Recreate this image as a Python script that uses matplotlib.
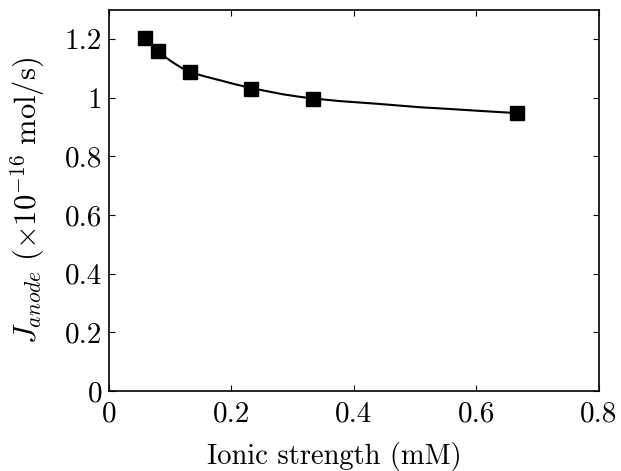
import matplotlib
matplotlib.use("Agg")
import matplotlib.pyplot as plt

plt.rcParams["font.family"] = "serif"
plt.rcParams["font.serif"] = ["cmr10", "DejaVu Serif"]
plt.rcParams["mathtext.fontset"] = "cm"
plt.rcParams["axes.unicode_minus"] = False

# measured points (ionic strength in mM, flux x1e-16 mol/s)
ionic = [0.058, 0.0795, 0.1322, 0.232, 0.3326, 0.666]
flux = [1.205, 1.159, 1.088, 1.030, 0.997, 0.948]

# fitted curve
fit_x = [0.058, 0.0795, 0.092, 0.105, 0.118, 0.1322, 0.155, 0.1812, 0.205,
         0.233, 0.26, 0.2846, 0.31, 0.3326, 0.377, 0.437, 0.508, 0.557, 0.61, 0.666]
fit_y = [1.205, 1.159, 1.139, 1.120, 1.103, 1.088, 1.074, 1.060, 1.047,
         1.033, 1.022, 1.012, 1.004, 0.998, 0.989, 0.980, 0.968, 0.962, 0.955, 0.948]

xticks = [0, 0.2, 0.4, 0.6, 0.8]
xtick_labels = ["0", "0.2", "0.4", "0.6", "0.8"]
yticks = [0, 0.2, 0.4, 0.6, 0.8, 1.0, 1.2]
ytick_labels = ["0", "0.2", "0.4", "0.6", "0.8", "1", "1.2"]

fig = plt.figure(figsize=(6.21, 4.71), dpi=100)
ax = fig.add_axes([0.1755, 0.1699, 0.789, 0.809])

ax.plot(fit_x, fit_y, color="black", lw=1.5)
ax.plot(ionic, flux, "s", color="black", markersize=9.5)

ax.set_xlim(0, 0.8)
ax.set_ylim(0, 1.3)
ax.set_xticks(xticks)
ax.set_xticklabels(xtick_labels)
ax.set_yticks(yticks)
ax.set_yticklabels(ytick_labels)
ax.tick_params(direction="in", top=True, right=True, length=4, width=0.8,
               labelsize=21)
ax.tick_params(axis="x", pad=7)
ax.tick_params(axis="y", pad=5)
for s in ax.spines.values():
    s.set_linewidth(1.2)

# label sits a bit left of centre in the original
ax.set_xlabel("Ionic strength (mM)", fontsize=20.5, labelpad=11, x=0.459)
ax.set_ylabel(r"$J_{anode}\ (\times 10^{-16}\ \mathrm{mol/s})$", fontsize=22, labelpad=13)

fig.savefig("out.png", dpi=100)
